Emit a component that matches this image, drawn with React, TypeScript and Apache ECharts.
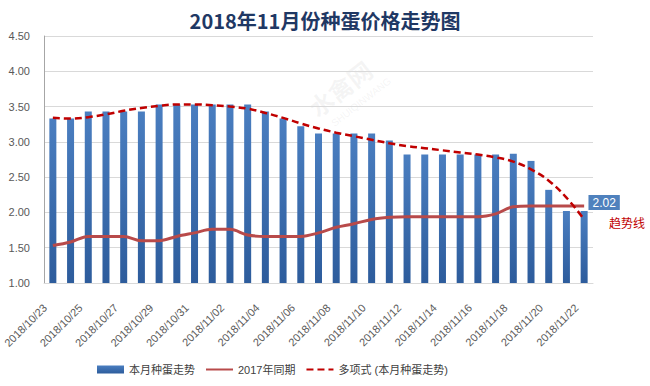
import React, { useEffect, useRef } from "react";
import * as echarts from "echarts";

const categories = [
  "2018/10/23", "2018/10/24", "2018/10/25", "2018/10/26", "2018/10/27", "2018/10/28",
  "2018/10/29", "2018/10/30", "2018/10/31", "2018/11/01", "2018/11/02", "2018/11/03",
  "2018/11/04", "2018/11/05", "2018/11/06", "2018/11/07", "2018/11/08", "2018/11/09",
  "2018/11/10", "2018/11/11", "2018/11/12", "2018/11/13", "2018/11/14", "2018/11/15",
  "2018/11/16", "2018/11/17", "2018/11/18", "2018/11/19", "2018/11/20", "2018/11/21",
  "2018/11/22",
];

const thisMonth = [
  3.33, 3.33, 3.43, 3.43, 3.43, 3.43, 3.53, 3.53, 3.53, 3.53, 3.53, 3.53, 3.43, 3.33,
  3.22, 3.12, 3.12, 3.12, 3.12, 3.02, 2.82, 2.82, 2.82, 2.82, 2.82, 2.82, 2.83, 2.73,
  2.32, 2.02, 2.02,
];

const lastYear = [
  1.53, 1.58, 1.66, 1.66, 1.66, 1.6, 1.6, 1.66, 1.71, 1.76, 1.76, 1.68, 1.66, 1.66,
  1.66, 1.71, 1.79, 1.84, 1.9, 1.93, 1.94, 1.94, 1.94, 1.94, 1.94, 1.98, 2.08, 2.09,
  2.09, 2.09, 2.09,
];

const trend = [
  3.34, 3.33, 3.35, 3.39, 3.44, 3.48, 3.51, 3.53, 3.53, 3.52, 3.5, 3.47, 3.41, 3.34,
  3.26, 3.19, 3.13, 3.08, 3.03, 2.98, 2.94, 2.91, 2.88, 2.85, 2.82, 2.78, 2.72, 2.61,
  2.45, 2.21, 1.9,
];

const seriesNames = ["本月种蛋走势", "2017年同期", "多项式 (本月种蛋走势)"];
const titleText = "2018年11月份种蛋价格走势图";
const trendNote = "趋势线";

const FONT = "'Liberation Sans', 'Noto Sans CJK SC', sans-serif";

export default function App() {
  const ref = useRef<HTMLDivElement>(null);
  useEffect(() => {
    if (!ref.current) return;
    const chart = echarts.init(ref.current, undefined, { renderer: "svg" });
    const lastIdx = thisMonth.length - 1;
    chart.setOption({
      animation: false,
      backgroundColor: "#ffffff",
      textStyle: { fontFamily: FONT },
      title: {
        text: titleText,
        left: "center",
        top: 5,
        textStyle: {
          fontFamily: "'Noto Sans CJK SC', sans-serif",
          fontSize: 20,
          fontWeight: "bold",
          color: "#1F3864",
        },
      },
      grid: { left: 44, right: 57, top: 36, bottom: 103, containLabel: false },
      legend: {
        left: 92,
        top: 359,
        itemGap: 10,
        itemWidth: 27,
        itemHeight: 8,
        textStyle: { fontFamily: FONT, fontSize: 11, color: "#404040" },
        data: [
          { name: seriesNames[0], icon: "rect" },
          { name: seriesNames[1], itemStyle: { opacity: 0 } },
          { name: seriesNames[2], itemStyle: { opacity: 0 } },
        ],
      },
      xAxis: {
        type: "category",
        data: categories,
        boundaryGap: true,
        axisLine: { show: true, lineStyle: { color: "#D9D9D9" } },
        axisTick: { show: false },
        axisLabel: {
          interval: 1,
          rotate: 45,
          fontSize: 11,
          color: "#595959",
          margin: 15,
          padding: [0, 11, 0, 0],
          fontFamily: FONT,
        },
      },
      yAxis: {
        type: "value",
        min: 1,
        max: 4.5,
        interval: 0.5,
        axisLine: { show: true, lineStyle: { color: "#A6A6A6" } },
        axisTick: { show: false },
        splitLine: { lineStyle: { color: "#D9D9D9" } },
        axisLabel: {
          formatter: (v: number) => v.toFixed(2),
          fontSize: 11,
          color: "#595959",
          margin: 14,
          fontFamily: FONT,
        },
      },
      graphic: [
        {
          type: "text",
          left: 609,
          top: 216,
          style: {
            text: trendNote,
            fill: "#C00000",
            fontSize: 12,
            fontFamily: "'Noto Sans CJK SC', sans-serif",
          },
        },
        {
          type: "group",
          x: 340,
          y: 88,
          rotation: (38 * Math.PI) / 180,
          z: -10,
          silent: true,
          children: [
            {
              type: "text",
              x: 0,
              y: 0,
              style: {
                text: "水禽网",
                fill: "rgba(170,170,170,0.13)",
                fontSize: 24,
                fontWeight: "bold",
                fontFamily: "'Noto Sans CJK SC', sans-serif",
                align: "center",
                verticalAlign: "middle",
              },
            },
            {
              type: "text",
              x: 8,
              y: 24,
              style: {
                text: "SHUIQINWANG",
                fill: "rgba(170,170,170,0.13)",
                fontSize: 10,
                fontFamily: FONT,
                align: "center",
                verticalAlign: "middle",
              },
            },
          ],
        },
      ],
      series: [
        {
          name: seriesNames[0],
          type: "bar",
          barWidth: 7,
          z: 1,
          itemStyle: {
            color: new echarts.graphic.LinearGradient(0, 0, 0, 1, [
              { offset: 0, color: "#4A7EC0" },
              { offset: 1, color: "#2D5C9C" },
            ]),
          },
          data: thisMonth.map((v, i) =>
            i === lastIdx
              ? {
                  value: v,
                  label: {
                    show: true,
                    position: "top",
                    distance: 1,
                    offset: [20, 0],
                    formatter: (p: any) => Number(p.value).toFixed(2),
                    backgroundColor: "#4F81BD",
                    color: "#ffffff",
                    fontSize: 12,
                    fontFamily: FONT,
                    padding: [2, 4, 1, 4],
                  },
                }
              : v
          ),
        },
        {
          name: seriesNames[1],
          type: "line",
          smooth: 0.35,
          symbol: "none",
          z: 3,
          itemStyle: { color: "#B84A4A" },
          lineStyle: { color: "#B84A4A", width: 3 },
          data: lastYear,
        },
        {
          name: seriesNames[2],
          type: "line",
          smooth: 0.4,
          symbol: "none",
          z: 4,
          itemStyle: { color: "#C00000" },
          lineStyle: { color: "#C00000", width: 2.5, type: [7, 4] },
          data: trend,
        },
      ],
    });
    return () => chart.dispose();
  }, []);
  return (
    <div
      ref={ref}
      style={{ position: "fixed", left: 0, top: 0, width: 650, height: 386 }}
    />
  );
}
